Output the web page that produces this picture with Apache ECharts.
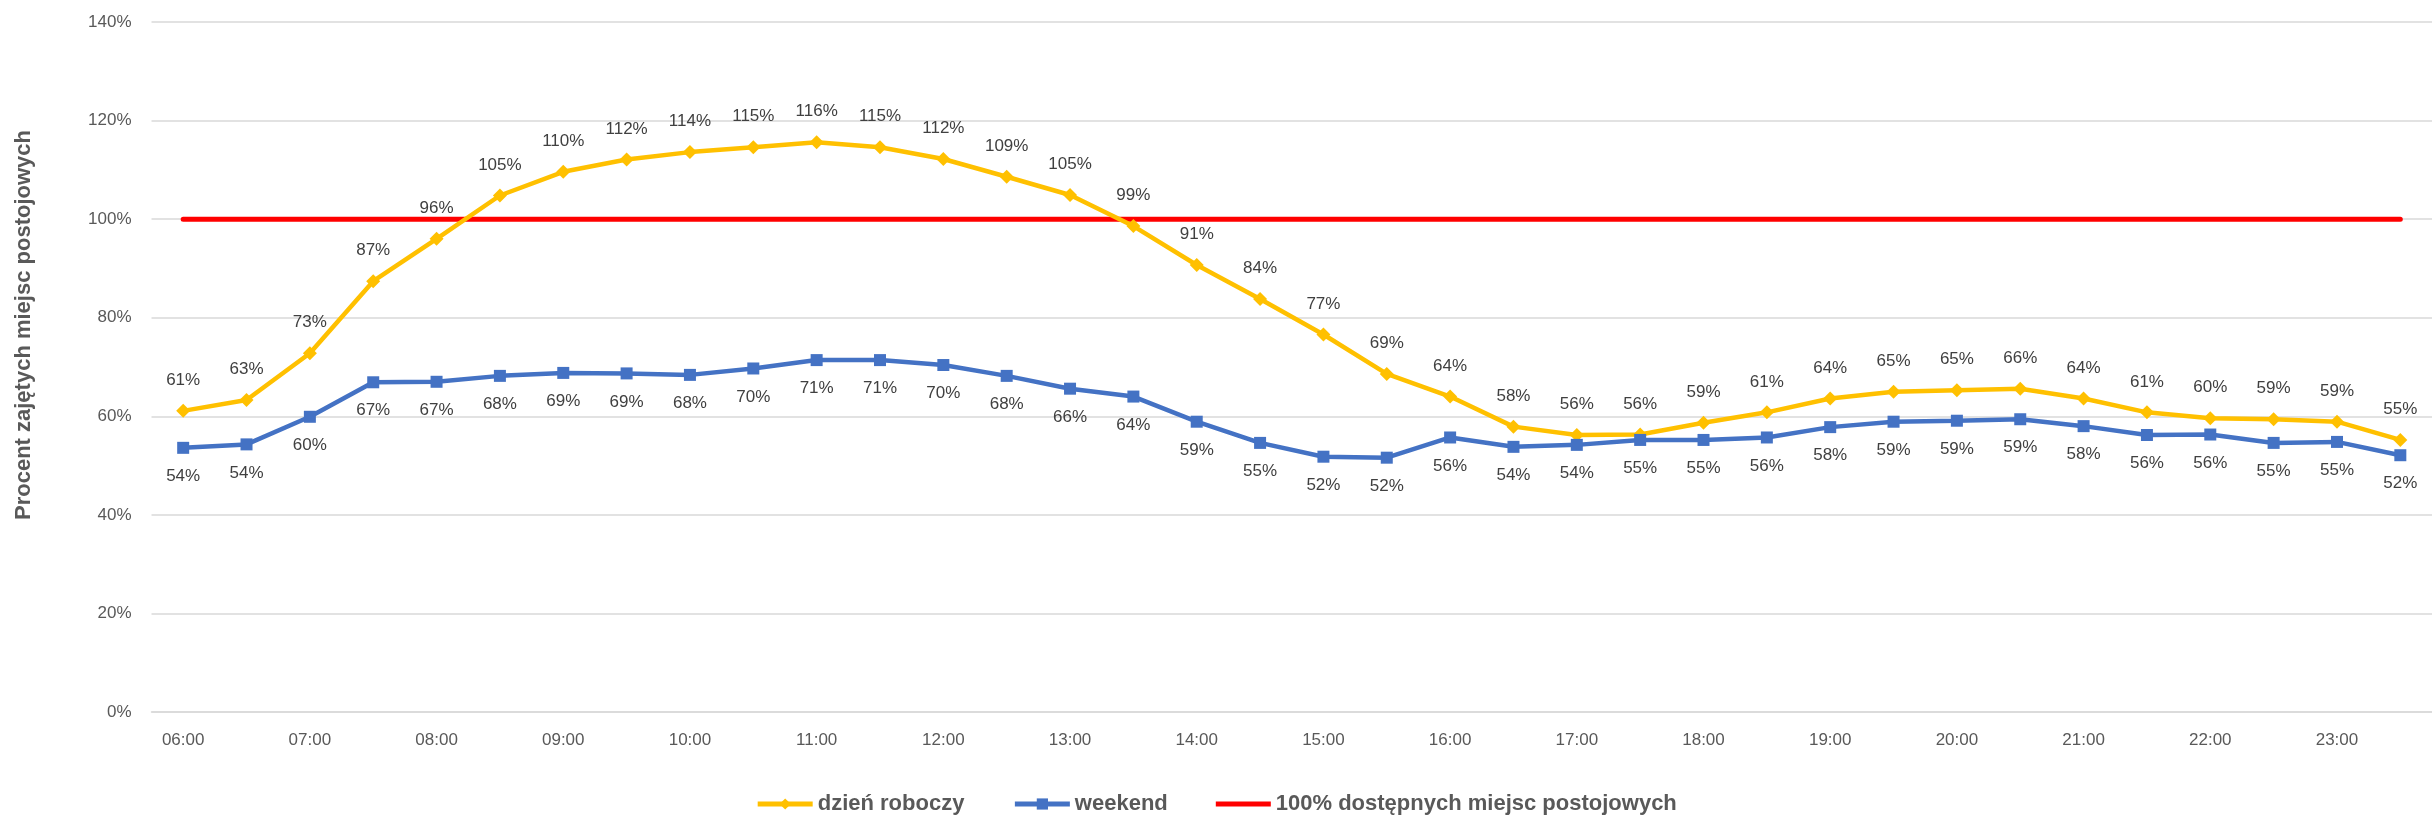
<!DOCTYPE html>
<html>
<head>
<meta charset="utf-8">
<script src="https://cdn.jsdelivr.net/npm/echarts@6/dist/echarts.min.js"></script>
<style>
html,body{margin:0;padding:0;background:#fff;}
#chart{width:2432px;height:822px;}
</style>
</head>
<body>
<div id="chart"></div>
<script>
const categories = ['06:00','06:30','07:00','07:30','08:00','08:30','09:00','09:30','10:00','10:30','11:00','11:30','12:00','12:30','13:00','13:30','14:00','14:30','15:00','15:30','16:00','16:30','17:00','17:30','18:00','18:30','19:00','19:30','20:00','20:30','21:00','21:30','22:00','22:30','23:00','23:30'];
const dzienRoboczy = [61.1,63.3,72.8,87.4,96.0,104.8,109.6,112.1,113.6,114.6,115.6,114.6,112.2,108.6,104.9,98.6,90.7,83.8,76.6,68.6,64.0,57.9,56.2,56.3,58.7,60.8,63.6,65.0,65.3,65.6,63.6,60.8,59.6,59.4,58.9,55.2];
const weekend = [53.6,54.3,59.9,66.9,67.0,68.2,68.8,68.7,68.4,69.7,71.4,71.4,70.4,68.2,65.6,64.0,58.9,54.6,51.8,51.6,55.7,53.8,54.2,55.2,55.2,55.7,57.8,58.9,59.1,59.4,58.0,56.2,56.3,54.6,54.8,52.1];
const limit = [100,100,100,100,100,100,100,100,100,100,100,100,100,100,100,100,100,100,100,100,100,100,100,100,100,100,100,100,100,100,100,100,100,100,100,100];
const seriesNames = ['dzień roboczy','weekend','100% dostępnych miejsc postojowych'];
const yAxisTitle = 'Procent zajętych miejsc postojowych';

const FONT = '"Liberation Sans", Arial, sans-serif';
const chart = echarts.init(document.getElementById('chart'), null, {renderer:'canvas'});
const labelFmt = p => Math.round(p.value) + '%';

chart.setOption({
  animation: false,
  backgroundColor: '#ffffff',
  textStyle: {fontFamily: FONT},
  grid: {left: 151.5, right: -5.5, top: 22, bottom: 110, containLabel: false},
  graphic: [{
    type: 'text',
    x: 24, y: 325,
    rotation: Math.PI / 2,
    style: {
      text: yAxisTitle,
      fontFamily: FONT, fontSize: 22, fontWeight: 'bold',
      fill: '#595959', textAlign: 'center', textVerticalAlign: 'middle'
    }
  }],
  legend: {
    top: 788,
    left: 'center',
    itemWidth: 55,
    itemHeight: 14,
    itemGap: 48,
    lineStyle: {width: 5},
    textStyle: {fontFamily: FONT, fontSize: 22, fontWeight: 'bold', color: '#595959'},
    data: [
      {name: seriesNames[0]},
      {name: seriesNames[1]},
      {name: seriesNames[2], icon: 'path://M0,0L55,0L55,5L0,5Z'}
    ]
  },
  xAxis: {
    type: 'category',
    data: categories,
    boundaryGap: true,
    axisLine: {show: true, lineStyle: {color: '#d9d9d9', width: 1.5}},
    axisTick: {show: false},
    axisLabel: {interval: 1, color: '#595959', fontSize: 17, fontFamily: FONT, margin: 20},
    splitLine: {show: false}
  },
  yAxis: {
    type: 'value',
    min: 0, max: 140, interval: 20,
    axisLine: {show: false},
    axisTick: {show: false},
    axisLabel: {formatter: '{value}%', color: '#595959', fontSize: 17, fontFamily: FONT, margin: 20},
    splitLine: {lineStyle: {color: '#d9d9d9', width: 1.5}}
  },
  series: [
    {
      name: seriesNames[0],
      type: 'line',
      data: dzienRoboczy,
      color: '#FFC000',
      lineStyle: {width: 4.5, color: '#FFC000'},
      symbol: 'diamond',
      symbolSize: 14,
      itemStyle: {color: '#FFC000'},
      label: {show: true, position: 'top', distance: 15, formatter: labelFmt, color: '#404040', fontSize: 17, fontFamily: FONT},
      z: 3
    },
    {
      name: seriesNames[1],
      type: 'line',
      data: weekend,
      color: '#4472C4',
      lineStyle: {width: 4.5, color: '#4472C4'},
      symbol: 'rect',
      symbolSize: 12,
      itemStyle: {color: '#4472C4'},
      label: {show: true, position: 'bottom', distance: 14, formatter: labelFmt, color: '#404040', fontSize: 17, fontFamily: FONT},
      z: 3
    },
    {
      name: seriesNames[2],
      type: 'line',
      data: limit,
      color: '#FF0000',
      lineStyle: {width: 5, color: '#FF0000', cap: 'round'},
      symbol: 'none',
      itemStyle: {color: '#FF0000'},
      z: 2
    }
  ]
});
</script>
</body>
</html>
